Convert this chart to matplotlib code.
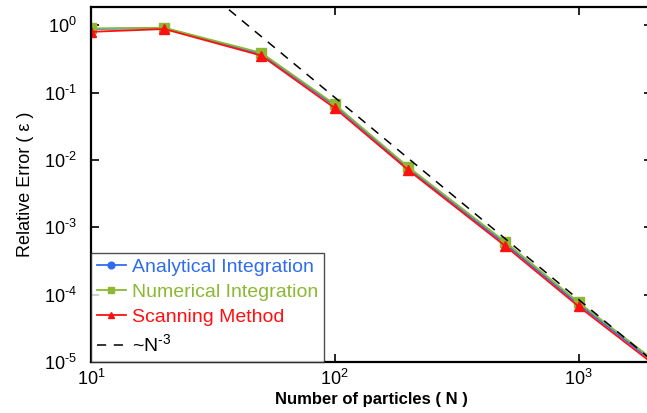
import matplotlib
matplotlib.use("Agg")
import matplotlib.pyplot as plt
from matplotlib.ticker import FuncFormatter
import numpy as np

plt.rcParams['font.family'] = ['Liberation Sans', 'DejaVu Sans']
plt.rcParams['mathtext.fontset'] = 'custom'
plt.rcParams['mathtext.rm'] = 'Liberation Sans'
plt.rcParams['axes.unicode_minus'] = False

N = [10, 20, 50, 100, 200, 500, 1000, 2000]
analytical = [0.88, 0.91, 0.375, 0.064, 0.0075, 5.7e-4, 7.2e-5, 1.05e-5]
numerical = [0.90, 0.92, 0.39, 0.067, 0.0079, 6.1e-4, 7.7e-5, 1.12e-5]
scanning = [0.80, 0.88, 0.355, 0.059, 0.0071, 5.3e-4, 6.7e-5, 0.97e-5]
ref_N = [30, 2000]
ref_err = [3.15, 1.06e-5]

labels = ['Analytical Integration', 'Numerical Integration', 'Scanning Method', '~N$^{\\mathregular{\u20103}}$']
colors = ['#2f6cf0', '#8cb833', '#ff1010']

fig = plt.figure(figsize=(6.47, 4.13), dpi=100)
ax = fig.add_axes([0.1406, 1 - 362 / 413, 0.867, (362 - 7) / 413])

ax.plot(N, analytical, '-o', color=colors[0], lw=1.3, ms=6.5, label=labels[0])
ax.plot(N, numerical, '-s', color=colors[1], lw=1.3, ms=6.5, label=labels[1])
ax.plot(N, scanning, '-^', color=colors[2], lw=1.3, ms=6.5, label=labels[2])
ax.plot(ref_N, ref_err, '--', color='black', lw=1.1, dashes=(6, 5), label=labels[3])

ax.set_xscale('log')
ax.set_yscale('log')
ax.set_xlim(10, 2000)
ax.set_ylim(1e-5, 1.87)
ax.minorticks_off()

def fmt_func(v, p):
    e = str(int(round(np.log10(v)))).replace('-', '\u2010')
    return '10$^{\\mathregular{%s}}$' % e

fmt = FuncFormatter(fmt_func)
ax.xaxis.set_major_formatter(fmt)
ax.yaxis.set_major_formatter(fmt)
ax.tick_params(which='both', direction='in', top=True, right=True, length=6, width=1.2, labelsize=13)
ax.tick_params(axis='y', pad=10)
ax.tick_params(axis='x', pad=5)
for s in ax.spines.values():
    s.set_linewidth(1.6)

ax.set_xlabel('Number of particles ( N )', fontsize=12, fontweight='bold', labelpad=2)
ax.set_ylabel('Relative Error ( ε )', fontsize=13, labelpad=7)

leg = ax.legend(loc='lower left', fontsize=14, frameon=True, fancybox=False,
                handlelength=1.5, handletextpad=0.3, borderaxespad=0, borderpad=0.3,
                labelspacing=0.38, markerscale=0.75)
leg.get_frame().set_edgecolor('#222222')
leg.get_frame().set_linewidth(1.0)
for t, c in zip(leg.get_texts(), colors + ['black']):
    t.set_color(c)

fig.savefig('out.png', dpi=100)
